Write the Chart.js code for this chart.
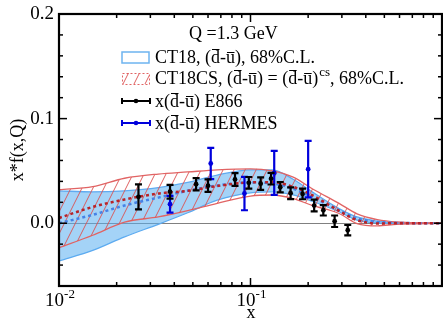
<!DOCTYPE html>
<html>
<head>
<meta charset="utf-8">
<script src="https://cdn.jsdelivr.net/npm/chart.js@4.4.0/dist/chart.umd.min.js"></script>
<style>
  html, body { margin: 0; padding: 0; background: #fff; overflow: hidden; }
  canvas { display: block; }
</style>
</head>
<body>
<canvas id="chart" width="446" height="322"></canvas>
<script>
// x grid for the PDF bands
const xGrid = [0.01, 0.015, 0.022, 0.033, 0.047, 0.067, 0.1, 0.13, 0.167, 0.21, 0.29, 0.36, 0.46, 0.58, 1.0];

// CT18 (dbar-ubar) 68% band + central
const ct18Up  = [0.031, 0.030, 0.031, 0.034, 0.039, 0.046, 0.051, 0.051, 0.042, 0.030, 0.014, 0.006, 0.002, 0.0005, 0];
const ct18Dn  = [-0.036, -0.026, -0.013, -0.001, 0.010, 0.022, 0.029, 0.030, 0.027, 0.021, 0.011, 0.003, 0.0003, 0, 0];
const ct18Mid = [0.000, 0.008, 0.017, 0.0245, 0.031, 0.036, 0.039, 0.038, 0.033, 0.025, 0.0124, 0.0045, 0.0013, 0.0003, 0];

// CT18CS band + central
const csUp  = [0.032, 0.035, 0.043, 0.047, 0.049, 0.051, 0.052, 0.050, 0.044, 0.033, 0.019, 0.009, 0.0035, 0.0012, 0];
const csDn  = [-0.0235, -0.0115, 0.001, 0.006, 0.012, 0.019, 0.026, 0.027, 0.0236, 0.017, 0.0093, -0.0003, -0.0025, -0.001, 0];
const csMid = [0.005, 0.0156, 0.0227, 0.0284, 0.031, 0.0356, 0.039, 0.0392, 0.0348, 0.0268, 0.0118, 0.003, -0.0003, 0, 0];

// E866 data
const e866X   = [0.026, 0.038, 0.052, 0.060, 0.083, 0.098, 0.113, 0.128, 0.143, 0.162, 0.187, 0.215, 0.240, 0.275, 0.322];
const e866Y   = [0.0252, 0.0301, 0.0373, 0.0359, 0.0418, 0.0386, 0.0378, 0.0426, 0.0344, 0.0287, 0.0280, 0.0169, 0.0124, 0.0019, -0.0067];
const e866Err = [0.012, 0.0065, 0.0058, 0.006, 0.006, 0.0056, 0.006, 0.0056, 0.005, 0.0056, 0.0051, 0.0056, 0.005, 0.0055, 0.005];

// HERMES data
const hermesX   = [0.038, 0.062, 0.093, 0.133, 0.200];
const hermesY   = [0.0182, 0.0571, 0.0284, 0.0481, 0.0517];
const hermesErr = [0.008, 0.0149, 0.016, 0.021, 0.027];

// axis ticks
const yTicks = [0, 0.1, 0.2];
const yTickLabels = ['0.0', '0.1', '0.2'];
const yMinor = [-0.04, -0.02, 0.02, 0.04, 0.06, 0.08, 0.12, 0.14, 0.16, 0.18];
const xTicks = [0.01, 0.1];
const xTickExp = ['-2', '-1'];
const xMinor = [0.02, 0.03, 0.04, 0.05, 0.06, 0.07, 0.08, 0.09, 0.2, 0.3, 0.4, 0.5, 0.6, 0.7, 0.8, 0.9];

const SERIF = "'Liberation Serif', 'Times New Roman', serif";
const ctx = document.getElementById('chart').getContext('2d');

function makeHatch(color) {
  const c = document.createElement('canvas');
  c.width = 11; c.height = 22;
  const g = c.getContext('2d');
  g.strokeStyle = color;
  g.lineWidth = 1;
  [-11, 0, 11].forEach(dx => {
    g.beginPath(); g.moveTo(dx, 22); g.lineTo(dx + 11, 0); g.stroke();
  });
  return ctx.createPattern(c, 'repeat');
}
const hatch = makeHatch('rgba(220,80,80,0.9)');

const pts = (xs, ys) => xs.map((x, i) => ({ x, y: ys[i] }));

function curve(label, ys, color, order, extra) {
  return Object.assign({
    label, data: pts(xGrid, ys), borderColor: color, borderWidth: 1.3,
    pointRadius: 0, fill: false, cubicInterpolationMode: 'monotone', order
  }, extra || {});
}

// rich text: strings, {bar:'d'} for overlined letters, {sup:'cs'}
function rich(c, x, y, parts, size) {
  parts.forEach(p => {
    if (typeof p === 'string') {
      c.font = `${size}px ${SERIF}`;
      c.fillText(p, x, y);
      x += c.measureText(p).width;
    } else if (p.sup) {
      c.font = `${Math.round(size * 0.7)}px ${SERIF}`;
      c.fillText(p.sup, x + 1, y - size * 0.42);
      x += c.measureText(p.sup).width + 1;
    } else {
      c.font = `${size}px ${SERIF}`;
      const w = c.measureText(p.bar).width;
      c.fillText(p.bar, x, y);
      const by = Math.round(y - (p.bar === 'd' ? 0.8 : 0.62) * size) + 0.5;
      c.save();
      c.lineWidth = 1;
      c.strokeStyle = c.fillStyle;
      c.beginPath(); c.moveTo(x + 1, by); c.lineTo(x + w - 0.5, by); c.stroke();
      c.restore();
      x += w;
    }
  });
  return x;
}

const D = { bar: 'd' }, U = { bar: 'u' };

const decor = {
  id: 'decor',
  beforeDatasetsDraw(chart) {
    const { ctx: c, chartArea: a, scales: { y } } = chart;
    const py = Math.round(y.getPixelForValue(0)) + 0.5;
    c.save();
    c.strokeStyle = '#808080'; c.lineWidth = 1;
    c.beginPath(); c.moveTo(a.left, py); c.lineTo(a.right, py); c.stroke();
    c.restore();
  },
  afterDatasetDraw(chart, args) {
    const ds = chart.data.datasets[args.index];
    if (!ds.errors) return;
    const { ctx: c, scales: { x, y } } = chart;
    c.save();
    c.strokeStyle = ds.borderColor; c.lineWidth = 2.2;
    ds.data.forEach((p, i) => {
      const px = x.getPixelForValue(p.x);
      const top = y.getPixelForValue(p.y + ds.errors[i]);
      const bot = y.getPixelForValue(p.y - ds.errors[i]);
      c.beginPath();
      c.moveTo(px, top); c.lineTo(px, bot);
      c.moveTo(px - 3.5, top); c.lineTo(px + 3.5, top);
      c.moveTo(px - 3.5, bot); c.lineTo(px + 3.5, bot);
      c.stroke();
    });
    c.restore();
  },
  afterDraw(chart) {
    const { ctx: c, chartArea: a, scales: { x, y } } = chart;
    c.save();
    c.strokeStyle = '#000'; c.fillStyle = '#000';
    const seg = (x1, y1, x2, y2) => { c.beginPath(); c.moveTo(x1, y1); c.lineTo(x2, y2); c.stroke(); };

    // inward ticks on all four sides
    c.lineWidth = 1.5;
    yMinor.forEach(v => { const p = y.getPixelForValue(v); seg(a.left, p, a.left + 4, p); seg(a.right, p, a.right - 4, p); });
    yTicks.forEach(v => { const p = y.getPixelForValue(v); seg(a.left, p, a.left + 8, p); seg(a.right, p, a.right - 8, p); });
    xMinor.forEach(v => { const p = x.getPixelForValue(v); seg(p, a.bottom, p, a.bottom - 4); seg(p, a.top, p, a.top + 4); });
    xTicks.forEach(v => { const p = x.getPixelForValue(v); seg(p, a.bottom, p, a.bottom - 8); seg(p, a.top, p, a.top + 8); });

    c.lineWidth = 2.2;
    c.strokeRect(a.left, a.top, a.right - a.left, a.bottom - a.top);

    // y labels
    c.font = `19px ${SERIF}`;
    c.textAlign = 'right'; c.textBaseline = 'middle';
    yTicks.forEach((v, i) => c.fillText(yTickLabels[i], a.left - 5, y.getPixelForValue(v)));

    // x labels 10^n
    c.textAlign = 'left'; c.textBaseline = 'alphabetic';
    xTicks.forEach((v, i) => {
      const px = x.getPixelForValue(v);
      c.font = `19px ${SERIF}`;
      const w1 = c.measureText('10').width;
      c.font = `13px ${SERIF}`;
      const w2 = c.measureText(xTickExp[i]).width;
      const x0 = px - (w1 + w2) / 2 + 1;
      c.font = `19px ${SERIF}`;
      c.fillText('10', x0, 306);
      c.font = `13px ${SERIF}`;
      c.fillText(xTickExp[i], x0 + w1, 298);
    });

    // axis titles
    c.font = `18px ${SERIF}`;
    c.textAlign = 'center';
    c.fillText('x', 251, 318);
    c.save();
    c.translate(23, (a.top + a.bottom) / 2);
    c.rotate(-Math.PI / 2);
    c.fillText('x*f(x,Q)', 0, 0);
    c.restore();

    // legend
    c.textAlign = 'left';
    c.font = `18px ${SERIF}`;
    c.fillText('Q =1.3 GeV', 189, 39);

    // CT18 box
    c.fillStyle = '#fff';
    c.fillRect(122, 52, 27, 11);
    c.strokeStyle = 'rgb(110,180,240)'; c.lineWidth = 1.5;
    c.strokeRect(122, 52, 27, 11);
    // CT18CS box
    c.fillStyle = hatch;
    c.fillRect(122, 73, 27, 11);
    c.strokeStyle = 'rgb(225,100,100)'; c.lineWidth = 1;
    c.setLineDash([2, 2]);
    c.strokeRect(122.5, 73.5, 27, 11);
    c.setLineDash([]);

    const marker = (yy, col) => {
      c.strokeStyle = col; c.fillStyle = col; c.lineWidth = 2;
      seg(122, yy, 150, yy);
      seg(122, yy - 3, 122, yy + 3);
      seg(150, yy - 3, 150, yy + 3);
      c.beginPath(); c.arc(136, yy, 2.3, 0, Math.PI * 2); c.fill();
    };
    marker(101, '#000');
    marker(123, 'rgb(0,0,220)');

    c.fillStyle = '#000'; c.strokeStyle = '#000';
    rich(c, 155, 63, ['CT18, (', D, '-', U, '), 68%C.L.'], 18);
    rich(c, 155, 84, ['CT18CS, (', D, '-', U, ') = (', D, '-', U, ')', { sup: 'cs' }, ', 68%C.L.'], 18);
    rich(c, 155, 107, ['x(', D, '-', U, ') E866'], 18);
    rich(c, 155, 129, ['x(', D, '-', U, ') HERMES'], 18);
    c.restore();
  }
};

new Chart(ctx, {
  type: 'line',
  data: {
    datasets: [
      curve('CT18 low', ct18Dn, 'rgb(95,170,240)', 9),
      curve('CT18 high', ct18Up, 'rgb(95,170,240)', 8, { fill: '-1', backgroundColor: 'rgba(90,175,240,0.55)' }),
      curve('CT18CS low', csDn, 'rgb(225,100,100)', 7),
      curve('CT18CS high', csUp, 'rgb(225,100,100)', 6, { fill: '-1', backgroundColor: hatch }),
      curve('CT18 central', ct18Mid, 'rgb(70,130,230)', 5, { borderWidth: 2.5, borderDash: [3, 3] }),
      curve('CT18CS central', csMid, 'rgb(185,35,40)', 4, { borderWidth: 2.5, borderDash: [3, 3] }),
      {
        label: 'HERMES', data: pts(hermesX, hermesY), errors: hermesErr, showLine: false,
        borderColor: 'rgb(0,0,220)', backgroundColor: 'rgb(0,0,220)', pointRadius: 2.4, pointBorderWidth: 0, order: 2
      },
      {
        label: 'E866', data: pts(e866X, e866Y), errors: e866Err, showLine: false,
        borderColor: '#000', backgroundColor: '#000', pointRadius: 2.4, pointBorderWidth: 0, order: 1
      }
    ]
  },
  options: {
    responsive: false,
    animation: false,
    layout: { padding: { left: 59, top: 14, right: 1, bottom: 36 } },
    plugins: { legend: { display: false }, tooltip: { enabled: false } },
    scales: {
      x: { type: 'logarithmic', min: 0.01, max: 1, display: false },
      y: { type: 'linear', min: -0.06, max: 0.2, display: false }
    }
  },
  plugins: [decor]
});
</script>
</body>
</html>
